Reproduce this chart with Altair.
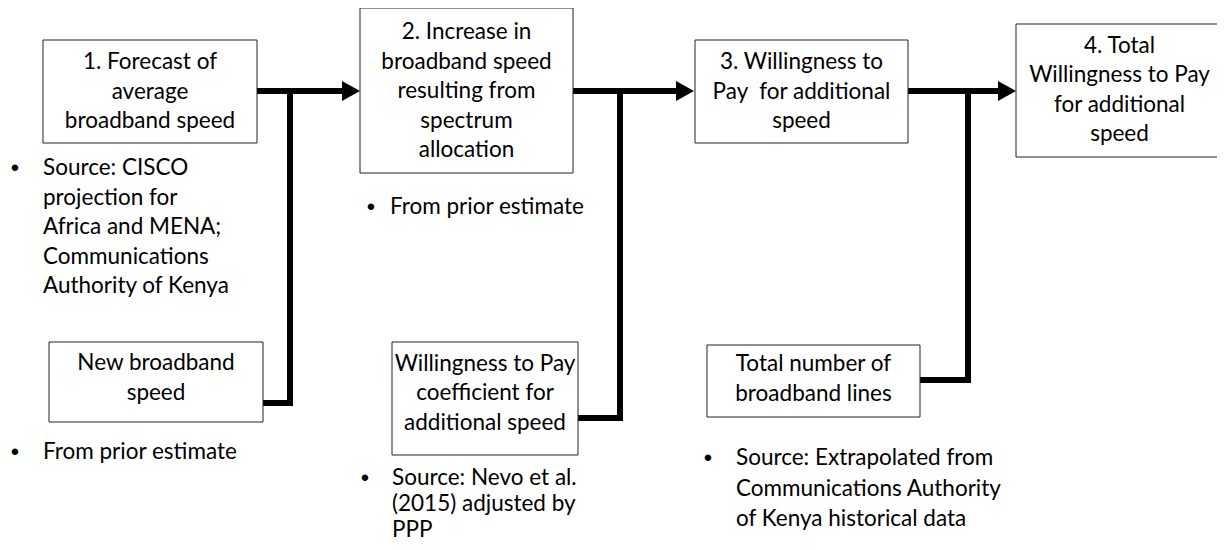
import altair as alt
import pandas as pd

# ---- Boxes (flowchart nodes) ----
box_labels = [
    ["1. Forecast of", "average", "broadband speed"],
    ["2. Increase in", "broadband speed", "resulting from", "spectrum", "allocation"],
    ["3. Willingness to", "Pay\u00a0 for additional", "speed"],
    ["4. Total", "Willingness to Pay", "for additional", "speed"],
    ["New broadband", "speed"],
    ["Willingness to Pay", "coefficient for", "additional speed"],
    ["Total number of", "broadband lines"],
]
box_x0 = [43, 360, 695, 1016, 49, 392, 707]
box_x1 = [257, 573, 908, 1223, 263, 578, 920]
box_y0 = [40, 8, 40, 24, 342, 342, 345]
box_y1 = [143, 173, 143, 157, 422, 455, 417]
box_text_y = [91.5, 91, 91.5, 90, 378, 393, 379]
box_line_h = 29.5

# ---- Bullet notes ----
note_lines = [
    ["Source: CISCO", "projection for", "Africa and MENA;", "Communications", "Authority of Kenya"],
    ["From prior estimate"],
    ["From prior estimate"],
    ["Source: Nevo et al.", "(2015) adjusted by", "PPP"],
    ["Source: Extrapolated from", "Communications Authority", "of Kenya historical data"],
]
note_bullet_x = [15, 15, 371, 365, 708]
note_text_x = [43, 43, 390, 392, 736]
note_y0 = [168, 452, 207, 478, 458]
note_line_h = [29.5, 29.5, 29.5, 26, 30.5]

# ---- Thick connectors ----
seg_x = [256, 290, 290, 573, 620, 620, 908, 968, 968]
seg_y = [91, 91, 403, 91, 91, 418, 91, 91, 380]
seg_x2 = [345, 290, 262, 680, 620, 578, 1000, 968, 920]
seg_y2 = [91, 403, 403, 91, 418, 418, 91, 380, 380]

# ---- Arrow tips ----
tip_x = [360, 694, 1016]
tip_y = [91, 91, 91]
head_len = 18

FONT = "Lato"
FS = 22.5

# build tables
box_df = pd.DataFrame({"x0": box_x0, "x1": box_x1, "y0": box_y0, "y1": box_y1})

rows = []
for lines, x0, x1, cy in zip(box_labels, box_x0, box_x1, box_text_y):
    n = len(lines)
    for i, t in enumerate(lines):
        rows.append({"x": (x0 + x1) / 2, "y": cy + (i - (n - 1) / 2) * box_line_h, "t": t})
box_text_df = pd.DataFrame(rows)

nrows, brows = [], []
for lines, bx, tx, y0, lh in zip(note_lines, note_bullet_x, note_text_x, note_y0, note_line_h):
    brows.append({"x": bx, "y": y0, "t": "•"})
    for i, t in enumerate(lines):
        nrows.append({"x": tx, "y": y0 + i * lh, "t": t})
note_df = pd.DataFrame(nrows)
bullet_df = pd.DataFrame(brows)

seg_df = pd.DataFrame({"x": seg_x, "y": seg_y, "x2": seg_x2, "y2": seg_y2})
head_df = pd.DataFrame({"x": [t - head_len / 2 for t in tip_x], "y": tip_y})

xs = alt.Scale(domain=[8, 1217], nice=False, zero=False)
ys = alt.Scale(domain=[8, 542], reverse=True, nice=False, zero=False)

rects = alt.Chart(box_df).mark_rect(fill="white", stroke="#222222", strokeWidth=1).encode(
    x=alt.X("x0:Q", scale=xs, axis=None),
    x2="x1:Q",
    y=alt.Y("y0:Q", scale=ys, axis=None),
    y2="y1:Q",
)

segs = alt.Chart(seg_df).mark_rule(color="black", strokeWidth=6, strokeCap="square").encode(
    x=alt.X("x:Q", scale=xs, axis=None),
    y=alt.Y("y:Q", scale=ys, axis=None),
    x2="x2:Q",
    y2="y2:Q",
)

heads = alt.Chart(head_df).mark_point(
    shape="M-0.9,-1L0.9,0L-0.9,1Z", filled=True, size=400, color="black", opacity=1
).encode(
    x=alt.X("x:Q", scale=xs, axis=None),
    y=alt.Y("y:Q", scale=ys, axis=None),
)

btext = alt.Chart(box_text_df).mark_text(
    font=FONT, fontSize=FS, align="center", baseline="middle", color="black"
).encode(
    x=alt.X("x:Q", scale=xs, axis=None),
    y=alt.Y("y:Q", scale=ys, axis=None),
    text="t:N",
)

ntext = alt.Chart(note_df).mark_text(
    font=FONT, fontSize=FS, align="left", baseline="middle", color="black"
).encode(
    x=alt.X("x:Q", scale=xs, axis=None),
    y=alt.Y("y:Q", scale=ys, axis=None),
    text="t:N",
)

bullets = alt.Chart(bullet_df).mark_text(
    font="Liberation Sans", fontSize=FS, fontWeight="bold", align="center", baseline="middle",
    color="black"
).encode(
    x=alt.X("x:Q", scale=xs, axis=None),
    y=alt.Y("y:Q", scale=ys, axis=None),
    text="t:N",
)

chart = alt.layer(segs, rects, heads, btext, ntext, bullets).properties(
    width=1209, height=534, padding=0, autosize="none", background="white"
).configure_view(stroke=None)

chart.save("out.html", embed_options={"renderer": "svg", "actions": False})
